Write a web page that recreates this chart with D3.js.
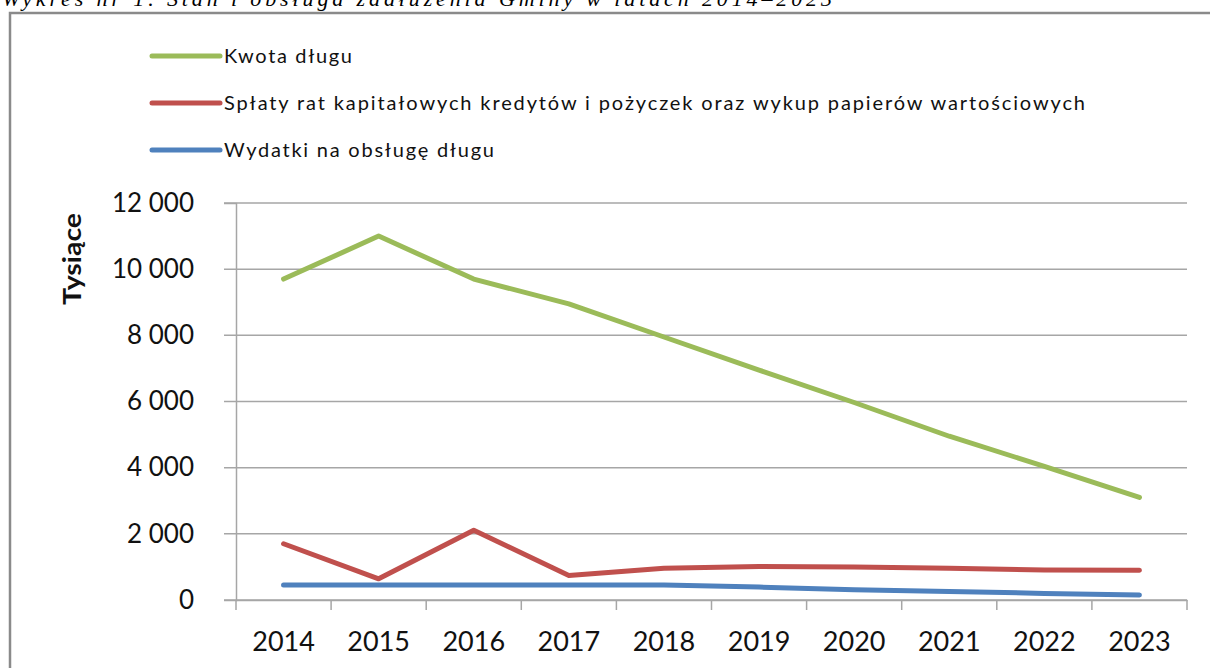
<!DOCTYPE html>
<html>
<head>
<meta charset="utf-8">
<script src="https://cdn.jsdelivr.net/npm/d3@7"></script>
<style>
    body { margin: 0; background: #fff; }
    svg { display: block; }
</style>
</head>
<body>
<svg id="chart" width="1210" height="668"></svg>
<script>
// data (thousands)
const years = ['2014', '2015', '2016', '2017', '2018', '2019', '2020', '2021', '2022', '2023'];
const kwotaDlugu = [9700, 11000, 9700, 8950, 7950, 6950, 5970, 4950, 4040, 3100];
const splatyRat = [1700, 640, 2110, 740, 960, 1010, 1000, 960, 910, 900];
const wydatkiObsluga = [450, 450, 450, 450, 450, 390, 310, 260, 200, 150];
const yTicks = [0, 2000, 4000, 6000, 8000, 10000, 12000];

const seriesNames = [
    'Kwota długu',
    'Spłaty rat kapitałowych kredytów i pożyczek oraz wykup papierów wartościowych',
    'Wydatki na obsługę długu'
];
const seriesColors = ['#9bbb59', '#c0504d', '#4f81bd'];
const legendWidths = [128, 861, 270];

const chart = (() => {
    const svg = d3.select('#chart');
    const font = 'Lato, "Open Sans", sans-serif';

    // caption above the frame, cropped by the page top like in the source
    svg.append('text')
        .attr('x', 2)
        .attr('y', 6)
        .attr('font-family', '"Liberation Serif", "Times New Roman", serif')
        .attr('font-style', 'italic')
        .attr('font-size', 22)
        .attr('textLength', 830)
        .attr('lengthAdjust', 'spacing')
        .text('Wykres nr 1. Stan i obsługa zadłużenia Gminy w latach 2014–2023');

    // frame (runs off the page right and bottom)
    svg.append('rect')
        .attr('x', 10).attr('y', 13)
        .attr('width', 1400).attr('height', 900)
        .attr('fill', 'none')
        .attr('stroke', '#8a8a8a')
        .attr('stroke-width', 2.5);

    const left = 236, right = 1187, top = 203, bottom = 600;

    const x = d3.scaleBand().domain(years).range([left, right]);
    const y = d3.scaleLinear().domain([0, 12000]).range([bottom, top]);

    const fmt = (v) => d3.format(',')(v).replace(/,/g, '\u00a0');

    // gridlines
    svg.append('g')
        .selectAll('line')
        .data(yTicks)
        .join('line')
        .attr('x1', left - 12)
        .attr('x2', right)
        .attr('y1', (d) => y(d))
        .attr('y2', (d) => y(d))
        .attr('stroke', '#a6a6a6')
        .attr('stroke-width', 1.5);

    // y axis
    const yAxis = svg.append('g')
        .attr('transform', 'translate(' + left + ',0)')
        .call(d3.axisLeft(y).tickValues(yTicks).tickSize(12).tickPadding(30).tickFormat(fmt));
    yAxis.select('.domain').attr('stroke', '#a6a6a6').attr('stroke-width', 1.5);
    yAxis.selectAll('.tick line').remove();
    yAxis.selectAll('text')
        .attr('font-family', font)
        .attr('font-size', 26)
        .attr('fill', '#111');

    // x axis, ticks on band edges
    const xAxis = svg.append('g')
        .attr('transform', 'translate(0,' + bottom + ')')
        .call(d3.axisBottom(x).tickSize(0).tickPadding(32));
    xAxis.select('.domain').attr('stroke', '#a6a6a6').attr('stroke-width', 1.5);
    xAxis.selectAll('text')
        .attr('font-family', font)
        .attr('font-size', 27)
        .attr('fill', '#111');
    xAxis.append('g')
        .selectAll('line')
        .data(years.map((d) => x(d)).concat([right]))
        .join('line')
        .attr('x1', (d) => d).attr('x2', (d) => d)
        .attr('y1', 0).attr('y2', 10)
        .attr('stroke', '#a6a6a6')
        .attr('stroke-width', 1.5);

    // y title
    svg.append('text')
        .attr('transform', 'translate(81,259) rotate(-90)')
        .attr('text-anchor', 'middle')
        .attr('font-family', font)
        .attr('font-weight', 'bold')
        .attr('font-size', 25)
        .attr('fill', '#111')
        .attr('textLength', 92)
        .attr('lengthAdjust', 'spacingAndGlyphs')
        .text('Tysiące');

    // lines
    const line = d3.line()
        .x((d, i) => x(years[i]) + x.bandwidth() / 2)
        .y((d) => y(d));

    const allSeries = [kwotaDlugu, splatyRat, wydatkiObsluga];
    svg.append('g')
        .selectAll('path')
        .data(allSeries)
        .join('path')
        .attr('d', (d) => line(d))
        .attr('fill', 'none')
        .attr('stroke', (d, i) => seriesColors[i])
        .attr('stroke-width', 5)
        .attr('stroke-linecap', 'round')
        .attr('stroke-linejoin', 'round');

    // legend
    const legend = svg.append('g')
        .selectAll('g')
        .data(seriesNames)
        .join('g')
        .attr('transform', (d, i) => 'translate(152,' + (56 + i * 47) + ')');
    legend.append('line')
        .attr('x1', 0).attr('x2', 68)
        .attr('stroke', (d, i) => seriesColors[i])
        .attr('stroke-width', 5)
        .attr('stroke-linecap', 'round');
    legend.append('text')
        .attr('x', 72)
        .attr('y', 7)
        .attr('font-family', font)
        .attr('font-size', 20)
        .attr('fill', '#111')
        .attr('textLength', (d, i) => legendWidths[i])
        .attr('lengthAdjust', 'spacing')
        .text((d) => d);

    return { x, y };
})();
</script>
</body>
</html>
